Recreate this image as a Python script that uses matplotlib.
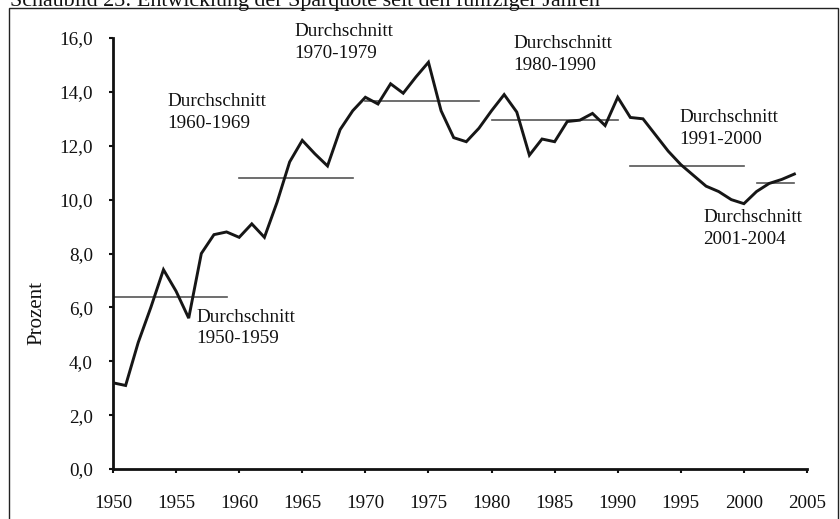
import numpy as np
import matplotlib.pyplot as plt
from matplotlib.patches import Rectangle

plt.rcParams['font.family'] = ['Liberation Serif', 'DejaVu Serif']

# Sparquote in Prozent, 1950-2004
years = list(range(1950, 2005))
quote = [3.2, 3.1, 4.7, 6.0, 7.4, 6.6, 5.6, 8.0, 8.7, 8.8,
         8.6, 9.1, 8.6, 9.9, 11.4, 12.2, 11.7, 11.25, 12.6, 13.3,
         13.8, 13.55, 14.3, 13.95, 14.55, 15.1, 13.3, 12.3, 12.15, 12.65,
         13.3, 13.9, 13.25, 11.65, 12.25, 12.15, 12.9, 12.95, 13.2, 12.75,
         13.8, 13.05, 13.0, 12.4, 11.8, 11.3, 10.9, 10.5, 10.3, 10.0,
         9.85, 10.3, 10.6, 10.75, 10.95]

# Durchschnitte: (von, bis, Wert)
avg_from = [1950, 1960, 1970, 1980, 1991, 2001]
avg_to = [1959, 1969, 1979, 1990, 2000, 2004]
avg_val = [6.4, 10.8, 13.65, 12.95, 11.25, 10.6]

labels = ['Durchschnitt\n1950-1959', 'Durchschnitt\n1960-1969', 'Durchschnitt\n1970-1979',
          'Durchschnitt\n1980-1990', 'Durchschnitt\n1991-2000', 'Durchschnitt\n2001-2004']
label_x = [1956.6, 1954.3, 1964.4, 1981.7, 1994.9, 1996.8]
label_y = [5.95, 13.95, 16.55, 16.1, 13.35, 9.65]

fig = plt.figure(figsize=(8.4, 5.19), dpi=100)
ax = fig.add_axes([113/840, 1 - 469/519, 694/840, 431/519])

# outer frame + clipped title
fig.patches.append(Rectangle((9/840, -0.05), 829/840, 1.05 - 8/519, transform=fig.transFigure,
                             fill=False, lw=1.0, ec='#222222'))
fig.text(10/840, 1 - 6/519, 'Schaubild 23: Entwicklung der Sparquote seit den fünfziger Jahren',
         fontsize=15.8, va='baseline', ha='left', color='#111111')

for a, b, v in zip(avg_from, avg_to, avg_val):
    ax.plot([a, b], [v, v], color='#555555', lw=1.2, zorder=2)

ax.plot(years, quote, color='#161616', lw=2.1, zorder=3, solid_joinstyle='miter')

for t, x, y in zip(labels, label_x, label_y):
    ax.text(x, y, t, fontsize=13.8, va='top', ha='left', color='#111111', linespacing=1.35,
            clip_on=False)

ax.set_xlim(1950, 2005)
ax.set_ylim(0, 16)
ax.set_xticks(np.arange(1950, 2006, 5))
ax.set_yticks(np.arange(0, 17, 2))
ax.set_yticklabels([f'{v:.1f}'.replace('.', ',') for v in np.arange(0, 17, 2)])
ax.tick_params(axis='both', labelsize=13.8, length=3, width=1.5, direction='out', colors='#111111')
ax.tick_params(axis='y', pad=11.5)
ax.tick_params(axis='x', pad=15.5)
for s in ['top', 'right']:
    ax.spines[s].set_visible(False)
for s in ['left', 'bottom']:
    ax.spines[s].set_linewidth(2.0)
    ax.spines[s].set_color('#111111')

fig.text(37/840, 1 - 313/519, 'Prozent', rotation=90, fontsize=15, va='center', ha='center',
         color='#111111')

fig.savefig('out.png', dpi=100)
